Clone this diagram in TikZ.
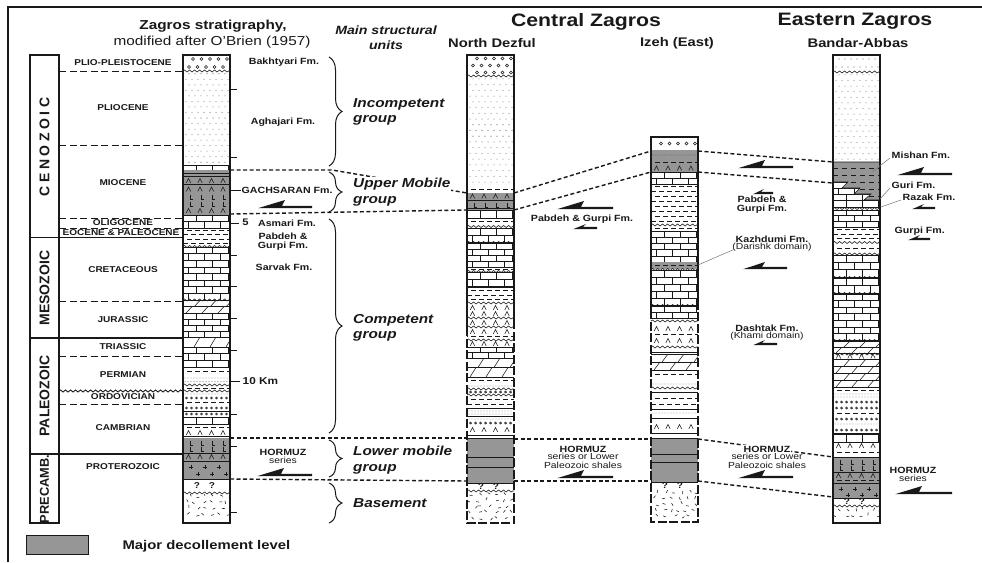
\documentclass[tikz,border=0pt]{standalone}
\usepackage{fontspec}
\setmainfont{Liberation Sans}[FakeStretch=1.18]
\newfontfamily\erafont{Liberation Sans}
\usetikzlibrary{decorations.pathreplacing,decorations.pathmorphing}
\definecolor{decol}{RGB}{150,150,150}
\definecolor{ink}{RGB}{25,25,25}
\tikzset{
 lith/.style={line width=0.55pt, draw=ink},
 colb/.style={line width=1.3pt, draw=ink},
 corr/.style={line width=1.4pt, draw=ink, dash pattern=on 4pt off 2.5pt},
 perline/.style={line width=0.9pt, draw=ink, dash pattern=on 7pt off 3.5pt},
 sanddot/.style={line width=1.05pt, line cap=round, draw=black!55, dash pattern=on 0pt off 6pt},
 dotrow/.style={line width=0.9pt, line cap=round, draw=ink, dash pattern=on 0pt off 3pt},
 wav/.style={line width=0.6pt, draw=ink, decorate, decoration={snake, amplitude=1pt, segment length=5pt}},
 grpbrace/.style={line width=1pt, draw=ink, decorate, decoration={brace, amplitude=13pt}},
 per/.style={font=\bfseries\fontsize{8.5}{9}\selectfont, text=ink, inner sep=0.5pt},
 fm/.style={font=\bfseries\fontsize{9}{9.3}\selectfont, text=ink, align=center, inner sep=0.5pt},
 fmr/.style={font=\fontsize{8.8}{8.4}\selectfont, text=ink, align=center, inner sep=0.5pt},
 grp/.style={font=\bfseries\itshape\fontsize{13}{15.5}\selectfont, text=ink, align=left, anchor=west, inner sep=0pt},
 era/.style={font=\erafont\bfseries\fontsize{14}{14}\selectfont, text=ink, rotate=90, inner sep=0pt},
 loc/.style={font=\bfseries\fontsize{12.5}{12.5}\selectfont, text=ink},
 region/.style={font=\bfseries\fontsize{18}{18}\selectfont, text=ink},
 leader/.style={line width=0.5pt, draw=black!55},
 tick/.style={line width=0.8pt, draw=ink},
}
% ---------- lithology patterns ----------
\newcommand\LIME[4]{%
  \begin{scope}
    \clip (#1,#3) rectangle (#2,#4);
    \pgfmathtruncatemacro\qn{max(1,round((#4-#3)/6.5))}%
    \pgfmathsetmacro\qh{(#4-#3)/\qn}%
    \draw[lith] (#1,#3) -- (#2,#3);
    \foreach \r in {1,...,\qn}{%
      \pgfmathsetmacro\qa{#3+(\r-1)*\qh}%
      \pgfmathsetmacro\qb{#3+\r*\qh}%
      \pgfmathsetmacro\qo{#1+5+mod(\r,2)*8}%
      \draw[lith] (#1,\qb) -- (#2,\qb);
      \foreach \k in {0,1,2}{\draw[lith] ({\qo+16*\k},\qa) -- ({\qo+16*\k},\qb);}
    }
  \end{scope}}
\newcommand\DOLO[4]{%
  \begin{scope}
    \clip (#1,#3) rectangle (#2,#4);
    \pgfmathtruncatemacro\qn{max(1,round((#4-#3)/8))}%
    \pgfmathsetmacro\qh{(#4-#3)/\qn}%
    \draw[lith] (#1,#3) -- (#2,#3);
    \foreach \r in {1,...,\qn}{%
      \pgfmathsetmacro\qa{#3+(\r-1)*\qh}%
      \pgfmathsetmacro\qb{#3+\r*\qh}%
      \pgfmathsetmacro\qo{#1+3+mod(\r,2)*8}%
      \draw[lith] (#1,\qb) -- (#2,\qb);
      \foreach \k in {0,1,2}{\draw[lith] ({\qo+16*\k},\qb) -- ({\qo+16*\k+6},\qa);}
    }
  \end{scope}}
\newcommand\SHALE[4]{%
  \begin{scope}
    \clip (#1,#3) rectangle (#2,#4);
    \pgfmathtruncatemacro\qn{max(1,floor((#4-#3)/4.5))}%
    \pgfmathsetmacro\qh{(#4-#3)/\qn}%
    \foreach \r in {1,...,\qn}{%
      \pgfmathsetmacro\qa{#3+(\r-0.5)*\qh}%
      \pgfmathsetmacro\qp{mod(\r,2)*4}%
      \draw[lith, dash pattern=on 5pt off 3pt, dash phase=\qp pt] (#1,\qa) -- (#2,\qa);}
  \end{scope}}
\newcommand\SAND[4]{%
  \pgfmathtruncatemacro\qn{max(1,floor((#4-#3)/5.5))}%
  \pgfmathsetmacro\qh{(#4-#3)/\qn}%
  \foreach \r in {1,...,\qn}{%
    \pgfmathsetmacro\qa{#3+(\r-0.5)*\qh}%
    \pgfmathsetmacro\qo{#1+3+mod(\r,2)*3}%
    \draw[sanddot] (\qo,\qa) -- ({#2-1},\qa);}}
\newcommand\CONG[4]{%
  \begin{scope}
    \clip (#1,#3) rectangle (#2,#4);
    \pgfmathtruncatemacro\qn{max(1,floor((#4-#3)/7))}%
    \pgfmathsetmacro\qh{(#4-#3)/\qn}%
    \foreach \r in {1,...,\qn}{%
      \pgfmathsetmacro\qa{#3+(\r-0.5)*\qh}%
      \pgfmathsetmacro\qo{#1+6+mod(\r,2)*4}%
      \foreach \k in {0,...,4}{\draw[lith] ({\qo+8.5*\k},\qa) circle (1.5pt);}}
  \end{scope}}
\newcommand\CIRROW[2]{\foreach \k in {0,...,8}{\draw[lith] ({#1+3.5+5*\k},#2) circle (1.1pt);}}
\newcommand\DOTROW[3]{\draw[dotrow] ({#1+2},#3) -- ({#2-1},#3);}
\newcommand\ANHY[2]{\foreach \k in {0,...,3}{\draw[lith] ({#1+5.5+11.5*\k-2.2},{#2+2}) -- ({#1+5.5+11.5*\k},{#2-2.5}) -- ({#1+5.5+11.5*\k+2.2},{#2+2});}}
\newcommand\LMK[2]{\foreach \k in {0,...,3}{\draw[lith] ({#1+7+11*\k},{#2-2.5}) -- ({#1+7+11*\k},{#2+2}) -- ({#1+10+11*\k},{#2+2});}}
\newcommand\PLUS[3]{\foreach \k in {0,1,2}{\draw[lith] ({#1+#3+14*\k-2.3},#2) -- ({#1+#3+14*\k+2.3},#2) ({#1+#3+14*\k},{#2-2.3}) -- ({#1+#3+14*\k},{#2+2.3});}}
\newcommand\HL[3]{\draw[lith] (#1,#3) -- (#2,#3);}
\newcommand\THL[3]{\draw[lith, line width=0.9pt] (#1,#3) -- (#2,#3);}
\newcommand\WAVY[3]{\draw[wav] (#1,#3) -- (#2,#3);}
\newcommand\GRAY[4]{\fill[decol] (#1,#3) rectangle (#2,#4);}
\newcommand\BASEM[4]{%
  \begin{scope}
    \clip (#1,#3) rectangle (#2,#4);
    \pgfmathtruncatemacro\qn{max(1,floor((#4-#3)/6))}%
    \foreach \r in {1,...,\qn}{%
      \foreach \k in {0,...,5}{%
        \pgfmathsetmacro\qx{#1+4+8*\k+mod(\r,2)*3+1.5*rand}%
        \pgfmathsetmacro\qy{#3+(\r-0.5)*6+1.2*rand}%
        \pgfmathsetmacro\qg{rnd*180}%
        \draw[lith] (\qx,\qy) -- ++(\qg:3pt);}}
  \end{scope}}
\newcommand\QM[2]{%
  \node[font=\bfseries\fontsize{8.5}{8.5}\selectfont, text=ink, inner sep=0pt] (q#1-#2a) at ({#1+14},#2) {?};
  \node[font=\bfseries\fontsize{8.5}{8.5}\selectfont, text=ink, inner sep=0pt] (q#1-#2b) at ({#1+29},#2) {?};}
\newcommand\SHEAR[5]{\fill[ink] (#1,{#3+1.2}) -- ({#1+#4},{#3-#5}) -- ({#1+#4-3},{#3-1.2}) -- (#2,{#3-1.2}) -- (#2,{#3+1.2}) -- cycle;}
\begin{document}
\begin{tikzpicture}[x={(1pt,0)},y={(0,-1pt)}]
\pgfmathsetseed{17}
\useasboundingbox (0,0) rectangle (982,562);
\fill[white] (0,0) rectangle (982,562);
% frame
\draw[line width=1.2pt, draw=ink] (8,562) -- (8,7) -- (982,7);

% ---------------- titles ----------------
\node[font=\bfseries\fontsize{13}{13}\selectfont, text=ink] (t1) at (213,26) {Zagros stratigraphy,};
\node[font=\fontsize{13}{13}\selectfont, text=ink] (t2) at (212,42) {modified after O'Brien (1957)};
\node[font=\bfseries\itshape\fontsize{12}{12}\selectfont, text=ink] (t3) at (386,30) {Main structural};
\node[font=\bfseries\itshape\fontsize{12}{12}\selectfont, text=ink] (t4) at (386,45) {units};
\node[region] (t5) at (586,22) {Central Zagros};
\node[region] (t6) at (855,21) {Eastern Zagros};
\node[loc] (t7) at (492,43) {North Dezful};
\node[loc] (t8) at (677,43) {Izeh (East)};
\node[loc] (t9) at (858,43) {Bandar-Abbas};

% ---------------- era / period columns ----------------
\draw[colb] (30,55) rectangle (59,523);
\foreach \yy in {237.5,338,454}{\draw[colb] (30,\yy) -- (183,\yy);}
\foreach \yy in {71,145,218,228,301,356,404}{\draw[perline] (59,\yy) -- (183,\yy);}
\draw[wav, line width=0.9pt] (59,391) -- (183,391);
\node[era] (e1) at (44.5,147) {\addfontfeatures{LetterSpace=25}CENOZOIC};
\node[era] (e2) at (44.5,288) {MESOZOIC};
\node[era] (e3) at (44.5,396) {PALEOZOIC};
\node[era,font=\erafont\bfseries\fontsize{12.8}{12.8}\selectfont] (e4) at (44.5,489) {PRECAMB.};
\node[per] (p1) at (123,63) {PLIO-PLEISTOCENE};
\node[per] (p2) at (123,108) {PLIOCENE};
\node[per] (p3) at (123,183) {MIOCENE};
\node[per] (p4) at (123,223) {OLIGOCENE};
\node[per] (p5) at (121,233) {EOCENE \& PALEOCENE};
\node[per] (p6) at (123,270) {CRETACEOUS};
\node[per] (p7) at (123,320) {JURASSIC};
\node[per] (p8) at (123,347) {TRIASSIC};
\node[per] (p9) at (123,375) {PERMIAN};
\node[per] (p10) at (123,397) {ORDOVICIAN};
\node[per] (p11) at (123,428) {CAMBRIAN};
\node[per] (p12) at (123,467) {PROTEROZOIC};

% ---------------- column 1 : Zagros stratigraphy ----------------
\CONG{183}{230}{55}{71}
\SAND{183}{230}{71}{165}
\WAVY{183}{230}{71}
\LIME{183}{230}{165}{170}
\GRAY{183}{230}{170}{215}
\THL{183}{230}{173.5}\THL{183}{230}{176.5}
\ANHY{183}{181}\HL{183}{230}{184.5}\ANHY{183}{189.5}
\LMK{183}{197}\LMK{183}{204}\ANHY{183}{211}
\LIME{183}{230}{215}{228}
\SHALE{183}{230}{228}{246}
\WAVY{183}{230}{246.5}
\LIME{183}{230}{247}{300}
\WAVY{183}{230}{300}
\DOLO{183}{230}{300.5}{313}
\LIME{183}{230}{313}{337}
\DOLO{183}{230}{337}{347}
\LIME{183}{230}{347}{367}
\SHALE{183}{230}{367}{375}
\DOTROW{183}{230}{378}\DOTROW{183}{230}{381.5}
\WAVY{183}{230}{385}
\SHALE{183}{230}{386}{390}
\WAVY{183}{230}{391}
\DOTROW{183}{230}{394}
\CIRROW{183}{398}
\SHALE{183}{230}{400}{405}
\CIRROW{183}{408}\HL{183}{230}{411}\CIRROW{183}{414}
\LIME{183}{230}{417}{424}
\SHALE{183}{230}{424}{430}
\ANHY{183}{433}\HL{183}{230}{436}
\GRAY{183}{230}{438}{479}
\LMK{183}{443}\LMK{183}{449}\THL{183}{230}{453}
\ANHY{183}{457}\THL{183}{230}{461}
\PLUS{183}{467}{8}\PLUS{183}{474}{15}
\HL{183}{230}{479}
\QM{183}{486}
\WAVY{183}{230}{493}
\BASEM{183}{230}{494}{523}
\draw[colb] (183,55) rectangle (230,523);
\foreach \yy in {89,157,255,286,318,350,414,446,512}{\draw[tick] (230,\yy) -- (237,\yy);}
\draw[tick] (230,190) -- (241,190);
\draw[tick] (230,223) -- (239,223);
\draw[tick] (230,381) -- (240,381);
\node[fm] (f1) at (284,62) {Bakhtyari Fm.};
\node[fm] (f2) at (283,122) {Aghajari Fm.};
\node[fm, anchor=west] (f3) at (241,190) {GACHSARAN Fm.};
\node[fm, font=\bfseries\fontsize{9.5}{9.5}\selectfont] (f4) at (245.5,222) {5};
\node[fm] (f5) at (287,223.5) {Asmari Fm.};
\node[fm] (f6) at (283,242) {Pabdeh \&\\Gurpi Fm.};
\node[fm] (f7) at (284,267) {Sarvak Fm.};
\node[fm, font=\bfseries\fontsize{10}{10}\selectfont, anchor=west] (f8) at (242,381.5) {10\,\,Km};
\node[fm] (f9) at (283,452) {HORMUZ};
\node[fmr] (f10) at (283,460) {series};
\SHEAR{258}{312}{207}{27}{7}
\SHEAR{257}{312}{475}{27}{7}

% ---------------- structural groups ----------------
\draw[grpbrace] (329,57) -- (329,166);
\draw[grpbrace] (329,172) -- (329,212);
\draw[grpbrace] (329,219) -- (329,433);
\draw[grpbrace] (329,440) -- (329,477);
\draw[grpbrace] (329,483) -- (329,523);
\node[grp] (g1) at (353,112) {Incompetent\\group};
\node[grp] (g3) at (353,328) {Competent\\group};
\node[grp] (g4) at (353,460) {Lower mobile\\group};
\node[grp] (g5) at (353,503) {Basement};

% ---------------- North Dezful ----------------
\CONG{467}{514}{55}{76}
\WAVY{467}{514}{76}
\SAND{467}{514}{76}{185}
\SHALE{467}{514}{185}{193}
\GRAY{467}{514}{193}{210}
\ANHY{467}{196.5}\HL{467}{514}{200.5}\LMK{467}{205}\HL{467}{514}{208}
\LIME{467}{514}{210}{218}
\SHALE{467}{514}{218}{225}
\WAVY{467}{514}{226.5}
\LIME{467}{514}{228}{242}
\WAVY{467}{514}{242.5}
\LIME{467}{514}{243}{267}
\SHALE{467}{514}{267}{271}
\WAVY{467}{514}{271.5}
\LIME{467}{514}{272}{286}
\THL{467}{514}{287}
\SHALE{467}{514}{288}{302}
\WAVY{467}{514}{303}
\ANHY{467}{308}\ANHY{467}{314}\WAVY{467}{514}{318}
\ANHY{467}{323}\WAVY{467}{514}{327}
\ANHY{467}{332}\SHALE{467}{514}{334}{339}\WAVY{467}{514}{340}\ANHY{467}{344}
\LIME{467}{514}{347}{358}
\DOLO{467}{514}{358}{377}
\SHALE{467}{514}{377}{384}\DOTROW{467}{514}{386}
\WAVY{467}{514}{389}\CIRROW{467}{392}\WAVY{467}{514}{395}
\SHALE{467}{514}{397}{407}\HL{467}{514}{408}
\DOTROW{467}{514}{411}\DOTROW{467}{514}{414}\HL{467}{514}{416}
\DOTROW{467}{514}{419}\CIRROW{467}{423}
\ANHY{467}{430}\HL{467}{514}{435}
\GRAY{467}{514}{438}{483}
\HL{467}{514}{438}\THL{467}{514}{457}\THL{467}{514}{467}\HL{467}{514}{483}
\QM{467}{487}
\WAVY{467}{514}{491}
\BASEM{467}{514}{492}{523}
\draw[colb] (467,327) -- (467,55) -- (514,55) -- (514,327);
\draw[colb, dash pattern=on 9pt off 2.5pt] (467,327) -- (467,523) -- (514,523) -- (514,327);

% ---------------- Izeh ----------------
\CONG{651}{698}{137}{150}
\GRAY{651}{698}{150}{172}
\DOTROW{651}{698}{155}\SHALE{651}{698}{160}{165}\ANHY{651}{168.5}
\LIME{651}{698}{172}{184}
\SHALE{651}{698}{184}{224}
\WAVY{651}{698}{225}
\SHALE{651}{698}{226}{231}
\LIME{651}{698}{231}{262}
\GRAY{651}{698}{262}{269}
\SHALE{651}{698}{263}{268}
\WAVY{651}{698}{269.5}
\LIME{651}{698}{270}{305}
\WAVY{651}{698}{305.5}
\LIME{651}{698}{306}{318}
\WAVY{651}{698}{321}
\ANHY{651}{329}\SHALE{651}{698}{332}{337}\ANHY{651}{341}\WAVY{651}{698}{347}
\HL{651}{698}{352}
\DOLO{651}{698}{354}{370}
\SHALE{651}{698}{370}{378}
\DOTROW{651}{698}{384}\WAVY{651}{698}{388}\HL{651}{698}{392}
\SHALE{651}{698}{395}{407}\HL{651}{698}{409}
\DOTROW{651}{698}{413}\HL{651}{698}{418}
\ANHY{651}{427}\HL{651}{698}{433}
\GRAY{651}{698}{438}{482}
\HL{651}{698}{438}\THL{651}{698}{454}\THL{651}{698}{462}\HL{651}{698}{482}
\QM{651}{486}
\BASEM{651}{698}{490}{522}
\draw[colb] (651,310) -- (651,137) -- (698,137) -- (698,310);
\draw[colb, dash pattern=on 9pt off 2.5pt] (651,310) -- (651,522) -- (698,522) -- (698,310);

% ---------------- Bandar-Abbas ----------------
\SAND{833}{880}{55}{71}
\WAVY{833}{880}{72}
\SAND{833}{880}{72}{162}
\LIME{833}{880}{182}{200}
\fill[decol] (833,162) -- (880,162) -- (880,200) -- (864,200) -- (871,194) -- (854,194) -- (860,188) -- (842,188) -- (848,182) -- (833,182) -- cycle;
\begin{scope}
  \clip (833,162) -- (880,162) -- (880,200) -- (864,200) -- (871,194) -- (854,194) -- (860,188) -- (842,188) -- (848,182) -- (833,182) -- cycle;
  \foreach \yy in {168,175,182,189,196}{\draw[lith, dash pattern=on 5pt off 4pt] (833,\yy) -- (880,\yy);}
\end{scope}
\draw[lith] (833,162) -- (880,162) (880,200) -- (864,200) -- (871,194) -- (854,194) -- (860,188) -- (842,188) -- (848,182) -- (833,182);
\HL{833}{880}{200}
\LIME{833}{880}{200}{207}
\WAVY{833}{880}{208.5}
\LIME{833}{880}{210}{227}
\SHALE{833}{880}{227}{241}
\WAVY{833}{880}{242.5}
\SHALE{833}{880}{244}{252}
\WAVY{833}{880}{254}
\LIME{833}{880}{255}{277}
\WAVY{833}{880}{277.5}
\LIME{833}{880}{278}{293}
\WAVY{833}{880}{293.5}
\LIME{833}{880}{294}{340}
\WAVY{833}{880}{340.5}
\DOLO{833}{880}{341}{353}
\WAVY{833}{880}{354}\ANHY{833}{356.5}\HL{833}{880}{359}
\DOLO{833}{880}{359}{387}
\THL{833}{880}{387}
\SHALE{833}{880}{388}{392}
\DOTROW{833}{880}{394}\DOTROW{833}{880}{397}
\CIRROW{833}{402}\CIRROW{833}{408}
\SHALE{833}{880}{411}{415}
\CIRROW{833}{419}\DOTROW{833}{880}{424}\CIRROW{833}{430}
\HL{833}{880}{433}
\LIME{833}{880}{434}{442}
\ANHY{833}{446}
\SHALE{833}{880}{449}{455}
\GRAY{833}{880}{457}{498}
\HL{833}{880}{457}\LMK{833}{462}\LMK{833}{468}\THL{833}{880}{472}
\ANHY{833}{476}\SHALE{833}{880}{478}{482}\THL{833}{880}{483.5}
\PLUS{833}{489}{8}\PLUS{833}{495}{15}\HL{833}{880}{498}
\QM{833}{502}
\WAVY{833}{880}{506}
\BASEM{833}{880}{507}{523}
\draw[colb] (833,55) rectangle (880,523);

% ---------------- correlation lines ----------------
\coordinate (c1a) at (230,170); \coordinate (c1b) at (230,214);
\coordinate (c1c) at (230,438); \coordinate (c1d) at (230,479);
\coordinate (bend) at (332,170);
\coordinate (nda) at (467,193); \coordinate (ndb) at (467,210);
\coordinate (ndc) at (467,438); \coordinate (ndd) at (467,481);
\coordinate (ndA) at (514,193); \coordinate (ndB) at (514,210);
\coordinate (ndC) at (514,439); \coordinate (ndD) at (514,481);
\coordinate (iza) at (651,151); \coordinate (izb) at (651,172);
\coordinate (izc) at (651,439); \coordinate (izd) at (651,481);
\coordinate (izA) at (698,151); \coordinate (izB) at (698,172);
\coordinate (izC) at (698,439); \coordinate (izD) at (698,481);
\coordinate (baa) at (833,162); \coordinate (bab) at (833,183);
\coordinate (bac) at (833,457); \coordinate (bad) at (833,497);
\draw[corr] (c1a) -- (bend) -- (nda);
\draw[corr] (c1b) -- (ndb);
\draw[corr] (c1c) -- (ndc);
\draw[corr] (c1d) -- (ndd);
\draw[corr] (ndA) -- (iza);
\draw[corr] (ndB) -- (izb);
\draw[corr] (ndC) -- (izc);
\draw[corr] (ndD) -- (izd);
\draw[corr] (izA) -- (baa);
\draw[corr] (izB) -- (bab);
\draw[corr] (izC) -- (bac);
\draw[corr] (izD) -- (bad);
\node[grp, fill=white, inner sep=1pt] (g2) at (352,192) {Upper Mobile\\group};

% ---------------- central & eastern labels ----------------
\SHEAR{557}{613}{208}{27}{7}
\node[fm] (c1) at (582,219) {Pabdeh \& Gurpi Fm.};
\SHEAR{573}{597}{228}{13}{4}
\node[fm] (c2) at (583,449) {HORMUZ};
\node[fmr] (c3) at (583,461) {series or Lower\\Paleozoic shales};
\SHEAR{557}{613}{477}{27}{7}

\SHEAR{738}{793}{167}{27}{7}
\SHEAR{753}{773}{193}{11}{4}
\node[fm] (c4) at (762,205) {Pabdeh \&\\Gurpi Fm.};
\node[fm] (c5) at (772,239) {Kazhdumi Fm.};
\node[fmr] (c6) at (772,247.5) {(Darishk domain)};
\coordinate (kz) at (698,265);
\draw[leader] (c6.west) ++(2,2) -- (kz);
\SHEAR{743}{787}{268}{22}{6}
\node[fm] (c7) at (767,328) {Dashtak Fm.};
\node[fmr] (c8) at (767,336.5) {(Khami domain)};
\SHEAR{753}{777}{344}{12}{4}
\node[fm, fill=white] (c9) at (767,449) {HORMUZ};
\node[fmr] (c10) at (767,461) {series or Lower\\Paleozoic shales};
\SHEAR{738}{793}{477}{27}{7}

\node[fm, anchor=west] (b1) at (891,155) {Mishan Fm.};
\coordinate (mi) at (872,172);
\draw[leader] (890,158) -- (mi);
\SHEAR{897}{952}{174}{27}{7}
\node[fm, anchor=west] (b2) at (891,185) {Guri Fm.};
\coordinate (gu) at (880,199);
\draw[leader] (890,188) -- (gu);
\node[fm, anchor=west] (b3) at (902,197) {Razak Fm.};
\coordinate (rz) at (881,207);
\draw[leader] (901,200) -- (rz);
\SHEAR{912}{935}{208}{12}{4}
\node[fm, anchor=west] (b4) at (894,231) {Gurpi Fm.};
\SHEAR{908}{930}{239}{12}{4}
\node[fm] (b5) at (913,470) {HORMUZ};
\node[fmr] (b6) at (913,478) {series};
\SHEAR{895}{952}{493}{27}{7}

% ---------------- legend ----------------
\fill[decol, draw=ink, line width=0.8pt] (26,535) rectangle (88,554);
\node[font=\bfseries\fontsize{12.6}{12.6}\selectfont, text=ink, anchor=west] (lg) at (119,546) {Major decollement level};
\end{tikzpicture}
\end{document}
